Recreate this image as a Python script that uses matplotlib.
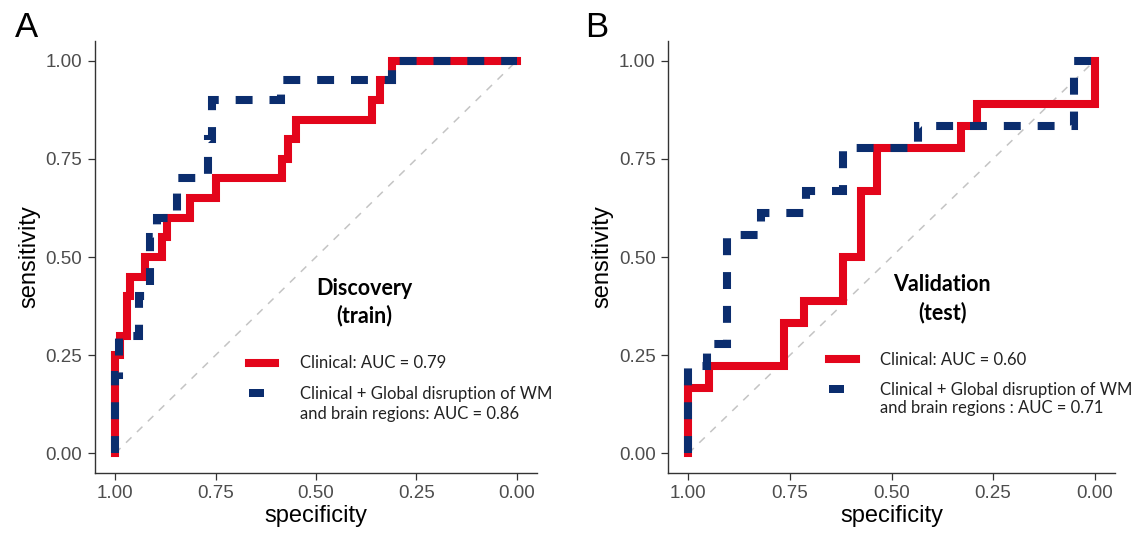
import matplotlib
matplotlib.use("Agg")
import matplotlib.pyplot as plt
from matplotlib.lines import Line2D

RED = "#E3051B"
NAVY = "#0B2D6E"

# ROC points (specificity, sensitivity)
disc_clin_spec = [1.0, 1.0, 0.988, 0.988, 0.97, 0.97, 0.963, 0.963, 0.925, 0.925, 0.883, 0.883,
                  0.87, 0.87, 0.813, 0.813, 0.75, 0.75, 0.585, 0.585, 0.57, 0.57, 0.55, 0.55,
                  0.36, 0.36, 0.34, 0.34, 0.31, 0.31, 0.0]
disc_clin_sens = [0.0, 0.25, 0.25, 0.30, 0.30, 0.40, 0.40, 0.45, 0.45, 0.50, 0.50, 0.55,
                  0.55, 0.60, 0.60, 0.65, 0.65, 0.70, 0.70, 0.75, 0.75, 0.80, 0.80, 0.85,
                  0.85, 0.90, 0.90, 0.95, 0.95, 1.0, 1.0]

disc_full_spec = [1.0, 1.0, 0.99, 0.99, 0.94, 0.94, 0.913, 0.913, 0.896, 0.896, 0.846, 0.846,
                  0.77, 0.77, 0.76, 0.76, 0.587, 0.587, 0.31, 0.31, 0.0]
disc_full_sens = [0.0, 0.20, 0.20, 0.30, 0.30, 0.40, 0.40, 0.55, 0.55, 0.60, 0.60, 0.70,
                  0.70, 0.80, 0.80, 0.90, 0.90, 0.95, 0.95, 1.0, 1.0]

val_clin_spec = [1.0, 1.0, 0.95, 0.95, 0.765, 0.765, 0.715, 0.715, 0.62, 0.62, 0.575, 0.575,
                 0.535, 0.535, 0.33, 0.33, 0.29, 0.29, 0.0, 0.0]
val_clin_sens = [0.0, 0.167, 0.167, 0.222, 0.222, 0.333, 0.333, 0.389, 0.389, 0.5, 0.5, 0.667,
                 0.667, 0.778, 0.778, 0.833, 0.833, 0.889, 0.889, 1.0]

val_full_spec = [1.0, 1.0, 0.955, 0.955, 0.905, 0.905, 0.82, 0.82, 0.71, 0.71, 0.62, 0.62,
                 0.435, 0.435, 0.05, 0.05, 0.0]
val_full_sens = [0.0, 0.222, 0.222, 0.278, 0.278, 0.556, 0.556, 0.611, 0.611, 0.667, 0.667, 0.778,
                 0.778, 0.833, 0.833, 1.0, 1.0]

ticks = [0.0, 0.25, 0.5, 0.75, 1.0]
tick_labels = ["0.00", "0.25", "0.50", "0.75", "1.00"]

panels = [
    dict(letter="A", title="Discovery\n(train)",
         clin=(disc_clin_spec, disc_clin_sens), full=(disc_full_spec, disc_full_sens),
         lab_clin="Clinical: AUC = 0.79",
         lab_full="Clinical + Global disruption of WM",
         lab_full2="and brain regions: AUC = 0.86"),
    dict(letter="B", title="Validation\n(test)",
         clin=(val_clin_spec, val_clin_sens), full=(val_full_spec, val_full_sens),
         lab_clin="Clinical: AUC = 0.60",
         lab_full="Clinical + Global disruption of WM",
         lab_full2="and brain regions : AUC = 0.71"),
]

W, H = 1144, 540
fig = plt.figure(figsize=(W / 100, H / 100), dpi=100)
boxes = [(95, 537), (668, 1115)]
text_font = ["Lato", "DejaVu Sans"]
axis_font = ["Liberation Sans", "DejaVu Sans"]

layout = [
    dict(leg=(0.348, 0.272), cont=(0.464, 0.136), title=(0.609, 0.395), letter=15),
    dict(leg=(0.36, 0.280), cont=(0.474, 0.150), title=(0.613, 0.404), letter=585),
]

# short dash used as the legend key of the dashed curve (left part of the key area)
dash_key = [(-13.35, -4.0), (1.65, -4.0), (1.65, 4.0), (-13.35, 4.0), (-13.35, -4.0)]

for p, (x0, x1), lay in zip(panels, boxes, layout):
    ax = fig.add_axes([x0 / W, 67 / H, (x1 - x0) / W, 432 / H])
    ax.plot([1, 0], [0, 1], color="#C4C4C4", lw=1.1, linestyle=(0, (5, 5)))
    l1, = ax.plot(*p["clin"], color=RED, lw=5.8, solid_joinstyle="miter")
    ax.plot(*p["full"], color=NAVY, lw=5.8, linestyle=(0, (2.1, 2.1)),
            dash_capstyle="butt", dash_joinstyle="miter")
    ax.set_xlim(1.05, -0.05)
    ax.set_ylim(-0.05, 1.05)
    ax.set_xticks(ticks)
    ax.set_xticklabels(tick_labels)
    ax.set_yticks(ticks)
    ax.set_yticklabels(tick_labels)
    for side in ("top", "right"):
        ax.spines[side].set_visible(False)
    for side in ("left", "bottom"):
        ax.spines[side].set_color("#333333")
        ax.spines[side].set_linewidth(1.0)
    ax.tick_params(length=5, width=0.9, color="#333333", labelcolor="#4D4D4D",
                   labelsize=13.5, pad=4)
    for t in ax.get_xticklabels() + ax.get_yticklabels():
        t.set_family(axis_font)
    ax.set_xlabel("specificity", fontsize=17, family=axis_font, labelpad=2)
    ax.set_ylabel("sensitivity", fontsize=17, family=axis_font, labelpad=4)

    ax.text(*lay["title"], p["title"], transform=ax.transAxes, ha="center", va="center",
            fontsize=15.5, fontweight="bold", family=text_font, linespacing=1.35)
    l2_key = Line2D([], [], color=NAVY, linestyle="none", marker=dash_key,
                    markersize=19.2, markeredgewidth=0)
    leg = ax.legend([l1, l2_key], [p["lab_clin"], p["lab_full"]], loc="upper left",
                    bbox_to_anchor=lay["leg"], frameon=False, borderpad=0, borderaxespad=0,
                    handlelength=1.6, handletextpad=1.45, labelspacing=0.85, numpoints=1,
                    prop=dict(family=text_font, size=12))
    for t in leg.get_texts():
        t.set_color("#222222")
    ax.text(*lay["cont"], p["lab_full2"], transform=ax.transAxes, ha="left", va="center",
            fontsize=12, family=text_font, color="#222222")

    fig.text(lay["letter"] / W, 1 - 37 / H, p["letter"], fontsize=25, family=axis_font,
             va="baseline", ha="left")

fig.savefig("out.png", dpi=100)
